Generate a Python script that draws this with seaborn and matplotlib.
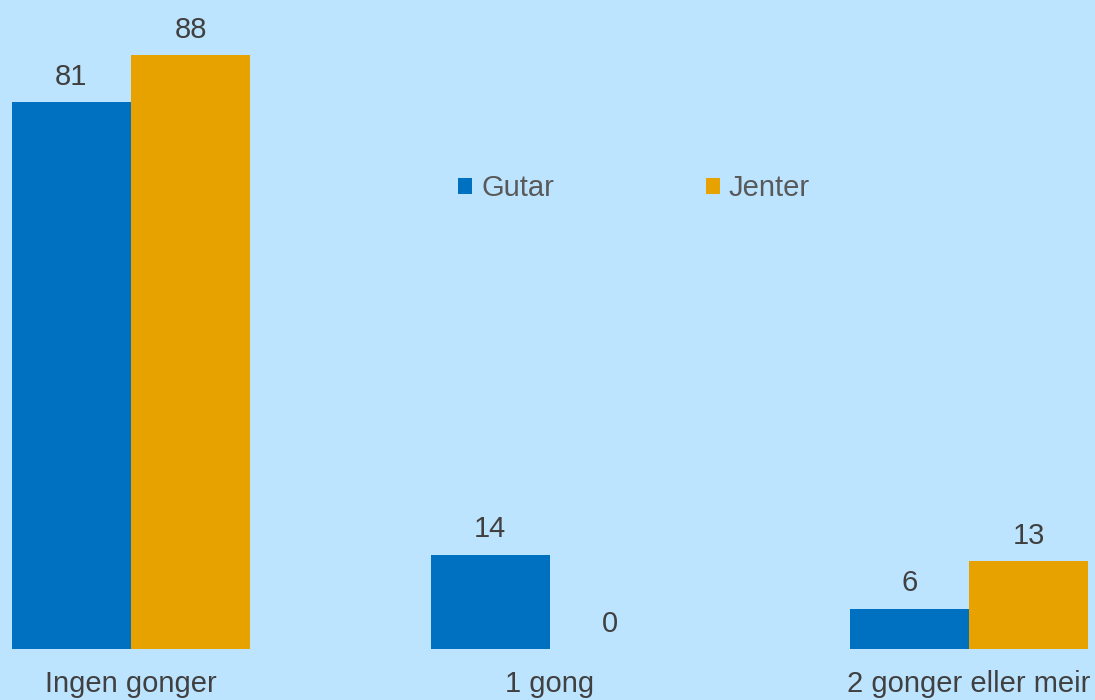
import matplotlib
matplotlib.use("Agg")
import matplotlib.pyplot as plt
import seaborn as sns
import pandas as pd
from matplotlib.patches import Patch

categories = ["Ingen gonger", "1 gong", "2 gonger eller meir"]
series_names = ["Gutar", "Jenter"]
gutar = [81, 14, 6]
jenter = [88, 0, 13]

colors = {"Gutar": "#0070C0", "Jenter": "#E8A200"}
bg = "#BDE4FF"

sns.set_theme(style="white")
plt.rcParams["font.family"] = ["Liberation Sans", "DejaVu Sans"]

df = pd.DataFrame({
    "cat": categories * 2,
    "serie": [series_names[0]] * 3 + [series_names[1]] * 3,
    "val": gutar + jenter,
})

fig = plt.figure(figsize=(10.95, 7.0), dpi=100, facecolor=bg)
ax = fig.add_axes([0, 51 / 700, 1, 649 / 700])
ax.set_facecolor(bg)

sns.barplot(data=df, x="cat", y="val", hue="serie", order=categories,
            hue_order=series_names, palette=colors, width=0.570, gap=0,
            saturation=1, errorbar=None, ax=ax, legend=False,
            linewidth=0, edgecolor="none")

for cont in ax.containers:
    ax.bar_label(cont, fmt="%d", padding=8, fontsize=21, color="#404040")

ax.set_xlim(-0.3126, 2.3007)
ax.set_ylim(0, 96.15)
ax.set_xlabel("")
ax.set_ylabel("")
ax.set_yticks([])
ax.tick_params(axis="x", length=0, pad=15, labelsize=21, labelcolor="#404040")
for s in ax.spines.values():
    s.set_visible(False)

handles = [Patch(facecolor=colors[n], edgecolor="none", label=n) for n in series_names]
fig.legend(handles=handles, loc="center", bbox_to_anchor=(0.579, 0.731), ncol=2,
           frameon=False, fontsize=21, handlelength=0.48, handleheight=0.48,
           handletextpad=0.3, columnspacing=5.2, labelcolor="#595959")

fig.savefig("out.png", dpi=100, facecolor=bg)
